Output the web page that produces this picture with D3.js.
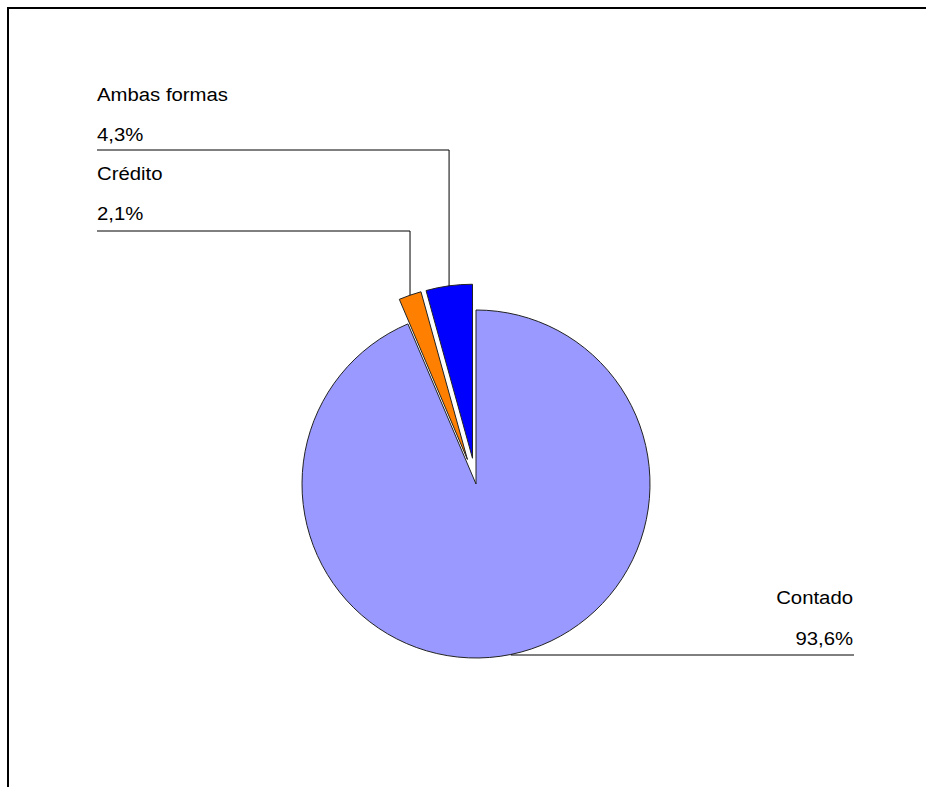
<!DOCTYPE html>
<html>
<head>
<meta charset="utf-8">
<script src="https://cdn.jsdelivr.net/npm/d3@7"></script>
<style>
  body { margin: 0; background: #fff; }
  text { font-family: "Liberation Sans", Arial, sans-serif; font-size: 18px; fill: #000; }
</style>
</head>
<body>
<div id="pieChart"></div>
<script>
var categories = ["Contado", "Crédito", "Ambas formas"];
var values = [93.6, 2.1, 4.3];
var valueLabels = ["93,6%", "2,1%", "4,3%"];
var colors = ["#9999ff", "#ff8000", "#0000ff"];
var exploded = [0, 26, 26];

var svgWidth = 926, svgHeight = 787;
var cx = 476, cy = 484, radius = 174;

var svg = d3.select("#pieChart").append("svg")
    .attr("width", svgWidth)
    .attr("height", svgHeight);

// frame (top + left only)
svg.append("path")
    .attr("d", "M8,787 L8,8 L926,8")
    .attr("fill", "none")
    .attr("stroke", "#000")
    .attr("stroke-width", 2);

var pie = d3.pie().sort(null).value(function(d) { return d; });
var arcs = pie(values);
var arc = d3.arc().innerRadius(0).outerRadius(radius);

var g = svg.append("g").attr("transform", "translate(" + cx + "," + cy + ")");

function offset(d, i) {
    var mid = (d.startAngle + d.endAngle) / 2;
    return [Math.sin(mid) * exploded[i], -Math.cos(mid) * exploded[i]];
}

g.selectAll("path.slice")
    .data(arcs)
    .enter().append("path")
    .attr("class", "slice")
    .attr("transform", function(d, i) { var o = offset(d, i); return "translate(" + o[0] + "," + o[1] + ")"; })
    .attr("d", arc)
    .attr("fill", function(d, i) { return colors[i]; })
    .attr("stroke", "#222")
    .attr("stroke-width", 1);

// outer-arc midpoint of each slice, in page coordinates
function anchor(d, i) {
    var mid = (d.startAngle + d.endAngle) / 2;
    var o = offset(d, i);
    return [cx + o[0] + Math.sin(mid) * radius, cy + o[1] - Math.cos(mid) * radius];
}

// label layout: [text x, name baseline, value baseline, line y, anchor side]
var labelPos = [
    [853, 604, 645, 655, "end"],
    [97, 180, 220, 231, "start"],
    [97, 101, 141, 150, "start"]
];

var labels = svg.append("g");
arcs.forEach(function(d, i) {
    var p = labelPos[i], a = anchor(d, i);
    var path;
    if (p[4] == "start") {
        path = "M" + p[0] + "," + p[3] + " H" + a[0] + " V" + a[1];
    } else {
        path = "M" + a[0] + "," + p[3] + " H" + (p[0] + 1);
    }
    labels.append("path")
        .attr("d", path)
        .attr("fill", "none")
        .attr("stroke", "#000")
        .attr("stroke-width", 1);

    [categories[i], valueLabels[i]].forEach(function(t, k) {
        labels.append("text")
            .attr("transform", "translate(" + p[0] + "," + p[1 + k] + ") scale(1.13,1)")
            .attr("text-anchor", p[4])
            .text(t);
    });
});
</script>
</body>
</html>
